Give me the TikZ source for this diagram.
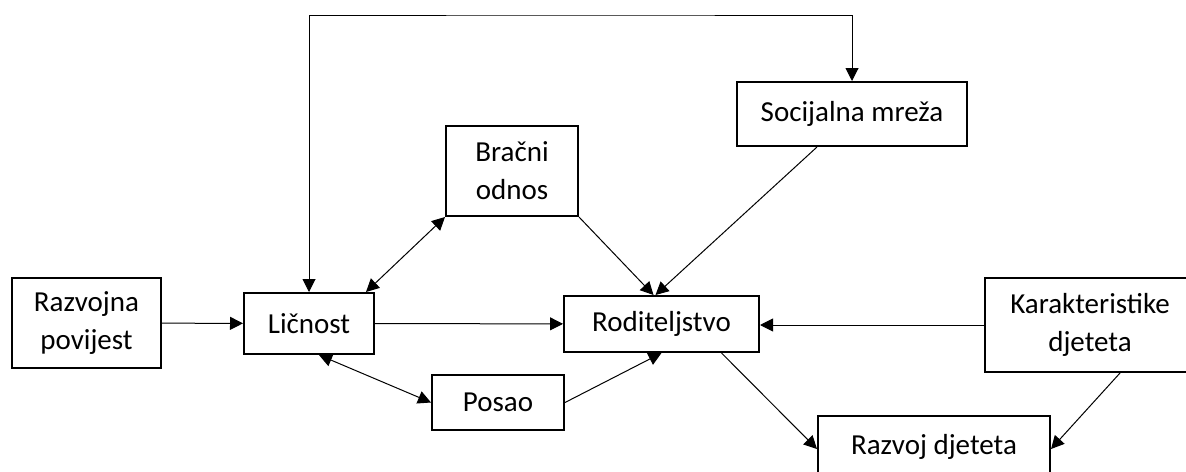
\documentclass[tikz,border=0pt]{standalone}
\usepackage{fontspec}
\setmainfont{Carlito}
\usepackage{tikz}
\usetikzlibrary{
  arrows.meta,
  positioning,
  calc,
  }

\begin{document}
\begin{tikzpicture}[x=0.5pt, y=-0.5pt,
                    every node/.style={draw, line width=1pt, inner sep=0pt, align=center,
                                       font=\fontsize{14.5}{19}\selectfont},
                    dvaretka/.style={execute at begin node={\rule{0pt}{15pt}}},
                    veza/.style={line width=0.5pt, -{Triangle[length=6.5pt,width=6.5pt]}},
                    dvoveza/.style={line width=0.5pt, {Triangle[length=6.5pt,width=6.5pt]}-{Triangle[length=6.5pt,width=6.5pt]}}]
                    \useasboundingbox (0,0) rectangle (1186,471);
                    \node[dvaretka, minimum width=74.5pt, minimum height=45pt] (povijest) at (86.5,323) {Razvojna\\povijest};
                    \node[minimum width=65pt, minimum height=30.5pt] (licnost) at (309,323.5) {Ličnost};
                    \node[minimum width=97.5pt, minimum height=28pt] (roditeljstvo) at (661.5,324) {Roditeljstvo};
                    \node[dvaretka, minimum width=105pt, minimum height=47pt] (karakteristike) at (1090,325) {Karakteristike\\djeteta};
                    \node[minimum width=116pt, minimum height=31pt] (razvoj) at (934,447) {Razvoj djeteta};
                    \node[minimum width=66pt, minimum height=27.5pt] (posao) at (498,402.5) {Posao};
                    \node[dvaretka, minimum width=66pt, minimum height=45pt] (brak) at (512,171) {Bračni\\odnos};
                    \node[minimum width=115pt, minimum height=32pt] (mreza) at (852,114) {Socijalna mreža};
                    \coordinate (vrh) at (580,15);
                    \draw[veza] (povijest) -- (licnost);
                    \draw[veza] (licnost) -- (roditeljstvo);
                    \draw[veza] (karakteristike.west) -- (karakteristike.west -| roditeljstvo.east);
                    \draw[dvoveza] (licnost.north) |- (vrh) -| (mreza.north);
                    \draw[dvoveza] (brak.south west) -- ([xshift=-4.5pt]licnost.north east);
                    \draw[dvoveza] ([xshift=5pt]licnost.south) -- (posao.west);
                    \draw[veza] (posao.east) -- (roditeljstvo.south);
                    \draw[veza] (brak.south east) -- ([xshift=-4pt]roditeljstvo.north);
                    \draw[veza] ([xshift=-17.5pt]mreza.south) -- ([xshift=-3pt]roditeljstvo.north);
                    \draw[veza] ([xshift=30pt]roditeljstvo.south) -- ([yshift=-1pt]razvoj.west);
                    \draw[veza] ([xshift=15pt]karakteristike.south) -- ([yshift=-1pt]razvoj.east);
                \end{tikzpicture}
\end{document}
